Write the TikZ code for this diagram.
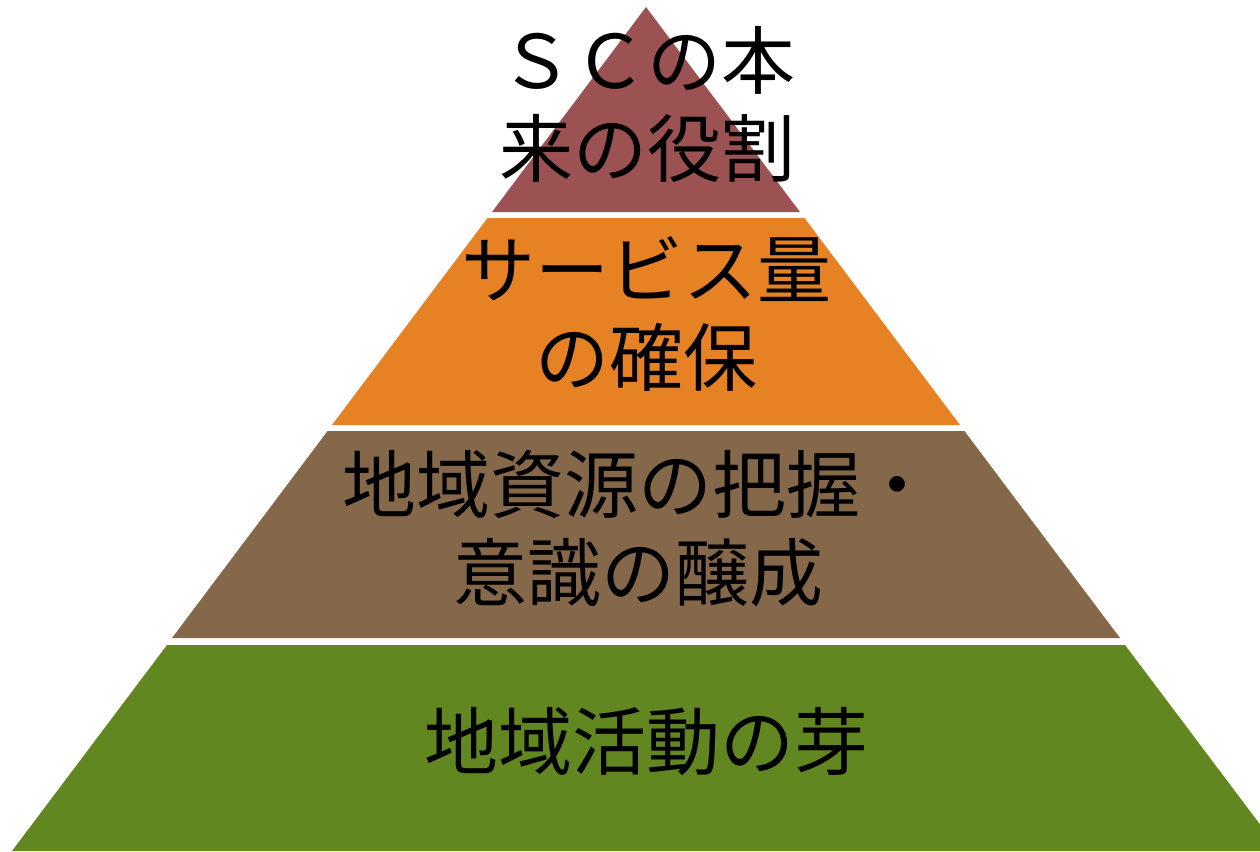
\documentclass[tikz,border=0pt]{standalone}
\usepackage{fontspec}
\newfontfamily\jpfont{Noto Sans CJK JP}
\definecolor{layerA}{RGB}{156,82,82}
\definecolor{layerB}{RGB}{230,130,36}
\definecolor{layerC}{RGB}{133,104,74}
\definecolor{layerD}{RGB}{99,135,32}
\tikzset{
  layer/.style={fill=#1, draw=none},
  lbl/.style={align=center, inner sep=0pt, text=black,
    font=\jpfont\fontsize{74}{88}\selectfont}
}
\begin{document}
\begin{tikzpicture}[x=1pt,y=-1pt]
\useasboundingbox (0,0) rectangle (1260,851);
\clip (0,0) rectangle (1260,851);
\fill[layer=layerA] (646,7) -- (800,212) -- (492,212) -- cycle;
\fill[layer=layerB] (487.5,218) -- (804.5,218) -- (960,425) -- (332,425) -- cycle;
\fill[layer=layerC] (327.6,431) -- (964.4,431) -- (1120,638) -- (172,638) -- cycle;
\fill[layer=layerD] (167,645) -- (1125,645) -- (1280,851) -- (12,851) -- cycle;
\node[lbl] (t1) at (647,104) {ＳＣの本\\来の役割};
\node[lbl] (t2) at (646,314) {サービス量\\の確保};
\node[lbl] (t3) at (638,529) {地域資源の把握・\\意識の醸成};
\node[lbl] (t4) at (646,742) {地域活動の芽};
\end{tikzpicture}
\end{document}
